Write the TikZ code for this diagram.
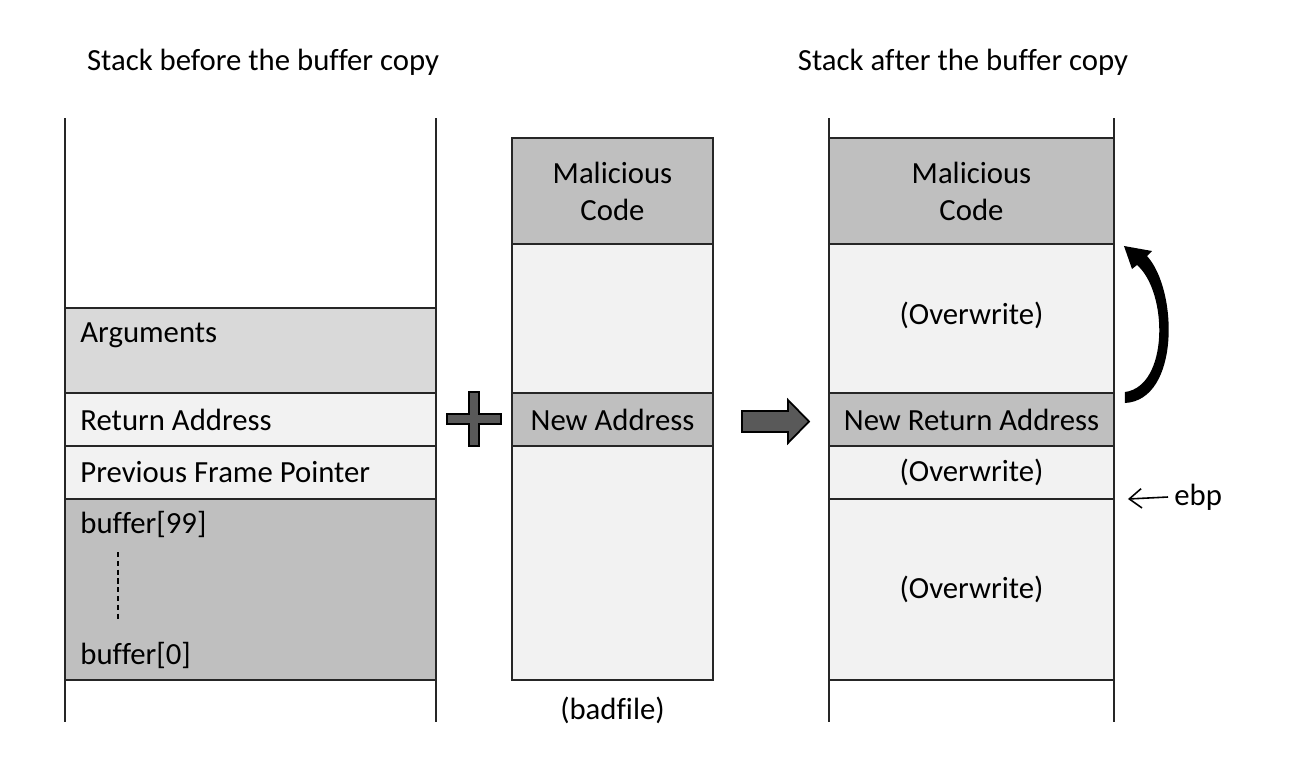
\documentclass[tikz,border=0pt]{standalone}
\usepackage{fontspec}
\setmainfont{Carlito}[Ligatures=CommonOff]
\definecolor{celldark}{HTML}{BFBFBF}
\definecolor{cellmid}{HTML}{D9D9D9}
\definecolor{celllight}{HTML}{F2F2F2}
\definecolor{shapegray}{HTML}{595959}
\usepackage{tikz}
\usetikzlibrary{arrows.meta, positioning, calc}

\begin{document}
\begin{tikzpicture}[x=0.02cm, y=-0.02cm,
  cell/.style={draw=black!85, line width=1.1pt, inner sep=0pt, outer sep=0pt, font=\fontsize{17.5}{21}\selectfont, align=center},
  lbl/.style={inner sep=0pt, font=\fontsize{17.5}{21}\selectfont},
  wall/.style={draw=black!85, line width=1.1pt}]
  \useasboundingbox (0,0) rectangle (1314,772);

  % Titles
  \node[lbl] (titlebefore) at (263,62) {Stack before the buffer copy};
  \node[lbl] (titleafter) at (963,62) {Stack after the buffer copy};

  % Stack before the buffer copy
  \node[cell, fill=cellmid, minimum width=7.42cm, minimum height=1.70cm] (args) at (250.5,350.5) {};
  \node[cell, fill=celllight, minimum width=7.42cm, minimum height=1.06cm] (ret) at (250.5,419.5) {};
  \node[cell, fill=celllight, minimum width=7.42cm, minimum height=1.06cm] (pfp) at (250.5,472.5) {};
  \node[cell, fill=celldark, minimum width=7.42cm, minimum height=3.62cm] (buf) at (250.5,589.5) {};
  \draw[wall] (65,118) -- (65,722);
  \draw[wall] (436,118) -- (436,722);
  \node[lbl, anchor=west] (argslbl) at ([xshift=0.3cm, yshift=-0.54cm]args.north west) {Arguments};
  \node[lbl, anchor=west] (retlbl) at ([xshift=0.3cm]ret.west) {Return Address};
  \node[lbl, anchor=west] (pfplbl) at ([xshift=0.3cm]pfp.west) {Previous Frame Pointer};
  \node[lbl, anchor=west] (buftop) at ([xshift=0.3cm, yshift=-0.5cm]buf.north west) {buffer[99]};
  \node[lbl, anchor=west] (bufbot) at ([xshift=0.3cm, yshift=0.5cm]buf.south west) {buffer[0]};
  \draw[dash pattern=on 3pt off 2pt, line width=0.6pt] (118,552) -- (118,622);

  % Plus sign
  \filldraw[fill=shapegray, draw=black, line width=1pt]
    (447,414) -- (469,414) -- (469,392) -- (479,392) -- (479,414) -- (501,414)
    -- (501,424) -- (479,424) -- (479,446) -- (469,446) -- (469,424) -- (447,424) -- cycle;

  % Badfile
  \node[cell, fill=celldark, minimum width=4.02cm, minimum height=2.12cm] (mal) at (612.5,191) {Malicious\\Code};
  \node[cell, fill=celllight, minimum width=4.02cm, minimum height=2.98cm] (fillone) at (612.5,318.5) {};
  \node[cell, fill=celldark, minimum width=4.02cm, minimum height=1.06cm] (newaddr) at (612.5,419.5) {New Address};
  \node[cell, fill=celllight, minimum width=4.02cm, minimum height=4.68cm] (filltwo) at (612.5,563) {};
  \node[lbl] (badfile) at (612.5,710) {(badfile)};

  % Block arrow
  \filldraw[fill=shapegray, draw=black, line width=1pt]
    (742,411) -- (788,411) -- (788,400) -- (809,421.5) -- (788,443) -- (788,432) -- (742,432) -- cycle;

  % Stack after the buffer copy
  \node[cell, fill=celldark, minimum width=5.70cm, minimum height=2.12cm] (rmal) at (971.5,191) {Malicious\\Code};
  \node[cell, fill=celllight, minimum width=5.70cm, minimum height=2.98cm] (owone) at (971.5,318.5) {\raisebox{0.2cm}{(Overwrite)}};
  \node[cell, fill=celldark, minimum width=5.70cm, minimum height=1.06cm] (nra) at (971.5,419.5) {New Return Address};
  \node[cell, fill=celllight, minimum width=5.70cm, minimum height=1.06cm] (owtwo) at (971.5,472.5) {(Overwrite)};
  \node[cell, fill=celllight, minimum width=5.70cm, minimum height=3.62cm] (owthree) at (971.5,589.5) {(Overwrite)};
  \draw[wall] (829,118) -- (829,722);
  \draw[wall] (1114,118) -- (1114,722);

  % Jump to the malicious code (tapered arrow)
  \coordinate (jumpfrom) at ([xshift=0.22cm]nra.north east);
  \coordinate (jumpto) at ([xshift=0.2cm, yshift=-0.04cm]rmal.south east);
  \fill[black] ([yshift=0.02cm]jumpfrom) .. controls (1169,386) and (1168,292) .. (1137,265)
    -- (1132,269) -- (jumpto) -- (1152,251) -- (1147,256)
    .. controls (1178,290) and (1180,400) .. ([yshift=-0.2cm]jumpfrom) -- cycle;

  % Frame pointer
  \node[lbl, anchor=west] (ebp) at (1174,497) {ebp};
  \coordinate (ebptip) at ([xshift=0.28cm]owtwo.south east);
  \draw[line width=0.9pt, -{Straight Barb[length=7pt, width=11pt]}] ([xshift=-0.12cm]ebp.west) -- (ebptip);
\end{tikzpicture}
\end{document}
